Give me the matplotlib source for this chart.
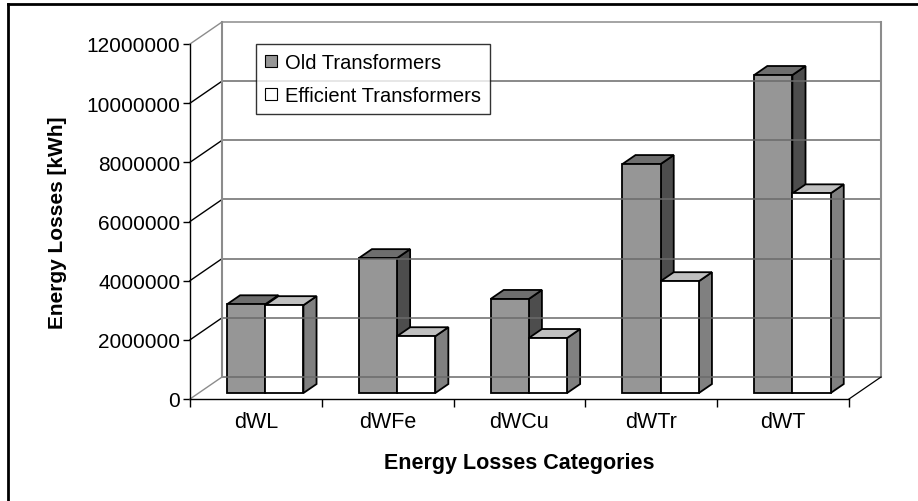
import matplotlib
matplotlib.use("Agg")
import matplotlib.pyplot as plt
from matplotlib.patches import Polygon, Patch
from matplotlib.lines import Line2D

# data
categories = ["dWL", "dWFe", "dWCu", "dWTr", "dWT"]
old_losses = [3000000, 4560000, 3180000, 7740000, 10750000]
eff_losses = [2970000, 1920000, 1860000, 3780000, 6750000]
series_names = ["Old Transformers", "Efficient Transformers"]
yticks = [0, 2000000, 4000000, 6000000, 8000000, 10000000, 12000000]

plt.rcParams['font.family'] = ['Liberation Sans', 'DejaVu Sans']

fig = plt.figure(figsize=(9.18, 5.02), dpi=100)
ax = fig.add_axes([190/918, 102/502, 659/918, 355/502])
ax.set_xlim(0, 5)
ax.set_ylim(0, 12000000)
ax.patch.set_visible(False)
for s in ax.spines.values():
    s.set_visible(False)

# depth of the fake 3d box, in data units
DX = 32 / (659/5)
DY = 22 / (355/12000000)

def pt(x, y, d):
    return (x + d*DX, y + d*DY)

def line(p, q, **kw):
    ax.add_line(Line2D([p[0], q[0]], [p[1], q[1]], clip_on=False, **kw))

wall = '#8c8c8c'
grid = '#6a6a6a'
# back wall and left wall gridlines
for v in yticks:
    c = wall if v in (0, 12000000) else 'black'
    line(pt(0, v, 0), pt(0, v, 1), color=c, lw=1)
    c2 = wall if v == 12000000 else grid
    line(pt(0, v, 1), pt(5, v, 1), color=c2, lw=1.1)
line(pt(0, 0, 1), pt(0, 12000000, 1), color=wall, lw=1.5)
line(pt(5, 0, 1), pt(5, 12000000, 1), color=wall, lw=1.5)
line(pt(5, 0, 0), pt(5, 0, 1), color='black', lw=0.9)

# front axes
line((0, 0), (0, 12000000), color='black', lw=1)
line((0, 0), (5, 0), color='black', lw=1)

ax.set_xticks(range(6))
ax.set_xticklabels([])
ax.set_xticks([i + 0.5 for i in range(5)], minor=True)
ax.set_xticklabels(categories, minor=True, fontsize=15.5)
ax.tick_params(axis='x', which='major', length=6, width=1, direction='out')
ax.tick_params(axis='x', which='minor', length=0, pad=9)
ax.set_yticks(yticks)
ax.set_yticklabels([str(v) for v in yticks], fontsize=15)
ax.tick_params(axis='y', length=5, width=1, pad=2)

colors = {
    0: ('#969696', '#6e6e6e', '#4d4d4d'),
    1: ('#ffffff', '#c0c0c0', '#808080'),
}
bw = 0.29
d0, d1 = 0.27, 0.68
for i in range(len(categories)):
    for s, vals in enumerate([old_losses, eff_losses]):
        v = vals[i]
        x0 = i + 0.215 + s*bw
        x1 = x0 + bw
        front, top, side = colors[s]
        side_poly = [pt(x1, 0, d0), pt(x1, 0, d1), pt(x1, v, d1), pt(x1, v, d0)]
        top_poly = [pt(x0, v, d0), pt(x1, v, d0), pt(x1, v, d1), pt(x0, v, d1)]
        front_poly = [pt(x0, 0, d0), pt(x1, 0, d0), pt(x1, v, d0), pt(x0, v, d0)]
        for poly, fc in [(side_poly, side), (top_poly, top), (front_poly, front)]:
            ax.add_patch(Polygon(poly, closed=True, facecolor=fc, edgecolor='black',
                                 lw=1.3, joinstyle='miter', clip_on=False))

ax.set_ylabel("Energy Losses [kWh]", fontsize=15, fontweight='bold', labelpad=14)
ax.set_xlabel("Energy Losses Categories", fontsize=15.5, fontweight='bold', labelpad=14)

handles = [Patch(facecolor='#969696', edgecolor='black', lw=0.8),
           Patch(facecolor='white', edgecolor='black', lw=0.8)]
leg = fig.legend(handles, series_names, loc='upper left',
                 bbox_to_anchor=(256/918, 1 - 45/502), fontsize=14.5,
                 frameon=True, fancybox=False, handlelength=0.6, handleheight=0.6,
                 handletextpad=0.4, labelspacing=0.7, borderpad=0.45, borderaxespad=0)
leg.get_frame().set_edgecolor('black')
leg.get_frame().set_linewidth(1)

# outer frame (left and top edges visible)
fig.add_artist(Line2D([8/918, 8/918], [0, 1 - 5/502], color='black', lw=2,
                      transform=fig.transFigure))
fig.add_artist(Line2D([8/918, 1], [1 - 5/502, 1 - 5/502], color='black', lw=2,
                      transform=fig.transFigure))

fig.savefig("out.png", dpi=100)
